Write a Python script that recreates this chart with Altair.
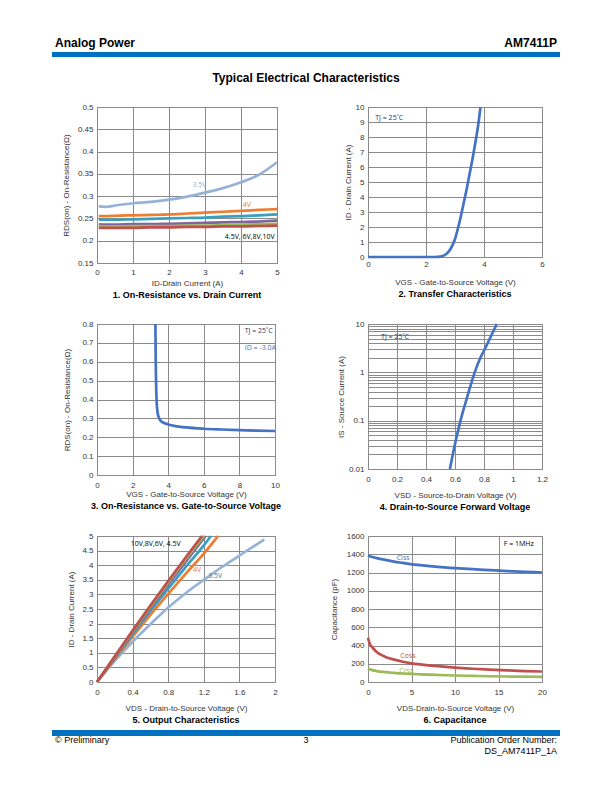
import altair as alt
import pandas as pd

FONT = "Liberation Sans"
GRID = "#8a8a8a"
LAB = "#333333"
BLUE = "#4472C4"

# ---------------- data ----------------
# 1. On-resistance vs drain current
c1_id = [0.05, 0.25, 0.5, 1, 1.5, 2, 2.5, 3, 3.5, 4, 4.5, 5]
c1_rds = {
    "3.5V": [0.277, 0.276, 0.279, 0.284, 0.287, 0.292, 0.299, 0.308, 0.318, 0.331, 0.348, 0.376],
    "4V":   [0.255, 0.255, 0.256, 0.257, 0.258, 0.259, 0.261, 0.263, 0.265, 0.267, 0.269, 0.271],
    "4.5V": [0.247, 0.247, 0.247, 0.248, 0.249, 0.250, 0.251, 0.252, 0.254, 0.255, 0.257, 0.259],
    "6V":   [0.237, 0.236, 0.236, 0.237, 0.237, 0.238, 0.239, 0.240, 0.241, 0.242, 0.243, 0.245],
    "8V":   [0.233, 0.232, 0.232, 0.233, 0.233, 0.233, 0.234, 0.234, 0.235, 0.236, 0.237, 0.238],
    "10V":  [0.229, 0.229, 0.229, 0.229, 0.230, 0.230, 0.231, 0.231, 0.232, 0.232, 0.233, 0.234],
}
series_names = ["3.5V", "4V", "4.5V", "6V", "8V", "10V"]
series_colors = ["#95B3D7", "#ED7D31", "#3A9FBF", "#8064A2", "#9BBB59", "#C0504D"]

# 2. Transfer characteristics
c2_vgs = [0, 2.3, 2.5, 2.7, 2.85, 3.0, 3.1, 3.2, 3.3, 3.4, 3.5, 3.6, 3.7, 3.8, 3.88]
c2_id = [0, 0, 0.03, 0.2, 0.55, 1.2, 1.9, 2.7, 3.6, 4.5, 5.5, 6.5, 7.6, 8.8, 10]

# 3. On-resistance vs gate-source voltage
c3_vgs = [3.28, 3.3, 3.33, 3.37, 3.45, 3.6, 4.0, 4.5, 5, 6, 7, 8, 9, 10]
c3_rds = [0.8, 0.6, 0.45, 0.36, 0.31, 0.285, 0.268, 0.258, 0.252, 0.245, 0.241, 0.238, 0.235, 0.233]

# 4. Drain-to-source forward voltage
c4_vsd = [0.565, 0.597, 0.62, 0.638, 0.683, 0.736, 0.775, 0.805, 0.84, 0.888]
c4_is = [0.01, 0.03, 0.06, 0.1, 0.3, 1, 2, 3, 5, 10]

# 5. Output characteristics
c5 = {
    "3.5V": ([0, 0.2, 0.4, 0.6, 0.8, 1.0, 1.2, 1.4, 1.6, 1.8, 1.88],
             [0, 0.72, 1.38, 1.98, 2.55, 3.05, 3.5, 3.93, 4.33, 4.72, 4.88]),
    "4V":   ([0, 0.2, 0.4, 0.6, 0.8, 1.0, 1.2, 1.36],
             [0, 0.78, 1.55, 2.3, 3.02, 3.72, 4.4, 5.0]),
    "4.5V": ([0, 0.2, 0.4, 0.6, 0.8, 1.0, 1.2, 1.28],
             [0, 0.82, 1.63, 2.43, 3.2, 3.95, 4.68, 5.0]),
    "6V":   ([0, 0.2, 0.4, 0.6, 0.8, 1.0, 1.22],
             [0, 0.85, 1.7, 2.53, 3.34, 4.13, 5.0]),
    "8V":   ([0, 0.2, 0.4, 0.6, 0.8, 1.0, 1.2],
             [0, 0.87, 1.73, 2.58, 3.41, 4.22, 5.0]),
    "10V":  ([0, 0.2, 0.4, 0.6, 0.8, 1.0, 1.18],
             [0, 0.88, 1.76, 2.62, 3.46, 4.28, 5.0]),
}

# 6. Capacitance
c6_vds = [0, 0.2, 0.5, 1, 2, 3, 4, 5, 6, 8, 10, 12, 14, 16, 18, 20]
c6_ciss = [1385, 1378, 1370, 1358, 1338, 1320, 1305, 1290, 1280, 1262, 1248, 1236, 1226, 1216, 1208, 1200]
c6_coss = [485, 420, 380, 330, 275, 245, 222, 205, 193, 173, 157, 145, 135, 127, 120, 115]
c6_crss = [148, 140, 130, 120, 108, 100, 93, 88, 84, 77, 71, 67, 63, 60, 58, 56]
cap_names = ["Ciss", "Coss", "Crss"]
cap_colors = ["#4472C4", "#C0504D", "#9BBB59"]

# tick lists
c1_xticks = [i * 0.25 for i in range(21)]
c1_yticks = [0.15, 0.2, 0.25, 0.3, 0.35, 0.4, 0.45, 0.5]
c2_xticks = [0, 2, 4, 6]
c2_yticks = list(range(0, 11))
c3_xticks = [0, 2, 4, 6, 8, 10]
c3_yticks = [0, 0.1, 0.2, 0.3, 0.4, 0.5, 0.6, 0.7, 0.8]
c4_xticks = [0, 0.2, 0.4, 0.6, 0.8, 1, 1.2]
c4_yticks = [round(m * 10 ** e, 6) for e in (-2, -1, 0) for m in range(1, 10)] + [10]
c5_xticks = [0, 0.4, 0.8, 1.2, 1.6, 2]
c5_yticks = [0, 0.5, 1, 1.5, 2, 2.5, 3, 3.5, 4, 4.5, 5]
c6_xticks = [0, 5, 10, 15, 20]
c6_yticks = [0, 200, 400, 600, 800, 1000, 1200, 1400, 1600]


def axis(values, title, fmt, label_padding=4, title_padding=4, label_expr=None):
    kw = dict(values=values, title=title, grid=True, ticks=False, domain=False,
              labelOverlap=False, labelFlush=False, labelPadding=label_padding,
              titlePadding=title_padding, format=fmt)
    if label_expr:
        kw["labelExpr"] = label_expr
    return alt.Axis(**kw)


def panel(df, xenc, yenc, notes_list, title, width, height, color=None, stroke=None):
    enc = dict(x=xenc, y=yenc, order=alt.Order("x:Q"))
    if color is not None:
        enc["color"] = color
        enc["detail"] = "s:N"
    mk = alt.Chart(df).mark_line(strokeWidth=2.7, interpolate="monotone",
                                 **({"color": stroke} if stroke else {}))
    layers = [mk.encode(**enc)]
    for ndf, ncol in notes_list:
        layers.append(alt.Chart(ndf).mark_text(font="Open Sans", fontSize=7, color=ncol,
                                               align="left").encode(x=xenc, y=yenc, text="t:N"))
    return alt.layer(*layers).properties(
        width=width, height=height,
        title=alt.TitleParams(title, orient="bottom", anchor="middle", offset=4))


# ---------------- chart 1 ----------------
rows = []
for s in series_names:
    for x, y in zip(c1_id, c1_rds[s]):
        rows.append({"s": s, "x": x, "y": y})
df1 = pd.DataFrame(rows)
x1 = alt.X("x:Q", scale=alt.Scale(domain=[0, 5], nice=False, zero=False),
           axis=axis(c1_xticks, "ID-Drain Current (A)", "d", label_padding=5, title_padding=3,
                     label_expr="datum.value % 1 === 0 ? datum.label : ''"))
y1 = alt.Y("y:Q", scale=alt.Scale(domain=[0.15, 0.5], nice=False, zero=False),
           axis=axis(c1_yticks, "RDS(on) - On-Resistance(Ω)", ".2~f", title_padding=7))
col1 = alt.Color("s:N", scale=alt.Scale(domain=series_names, range=series_colors), legend=None)
chart1 = panel(df1, x1, y1, [
    (pd.DataFrame({"x": [2.65], "y": [0.325], "t": ["3.5V"]}), "#95B3D7"),
    (pd.DataFrame({"x": [4.05], "y": [0.28], "t": ["4V"]}), "#ED7D31"),
    (pd.DataFrame({"x": [3.55], "y": [0.208], "t": ["4.5V, 6V,8V,10V"]}), "#000000"),
], "1. On-Resistance vs. Drain Current", 180, 156, color=col1)

# ---------------- chart 2 ----------------
df2 = pd.DataFrame({"x": c2_vgs, "y": c2_id})
x2 = alt.X("x:Q", scale=alt.Scale(domain=[0, 6], nice=False),
           axis=axis(c2_xticks, "VGS - Gate-to-Source Voltage (V)", "d", label_padding=3, title_padding=10))
y2 = alt.Y("y:Q", scale=alt.Scale(domain=[0, 10], nice=False),
           axis=axis(c2_yticks, "ID - Drain Current (A)", "d", title_padding=3))
chart2 = panel(df2, x2, y2, [
    (pd.DataFrame({"x": [0.25], "y": [9.3], "t": ["TJ = 25˚C"]}), "#1F3864"),
], "2. Transfer Characteristics", 174, 150, stroke=BLUE)

# ---------------- chart 3 ----------------
df3 = pd.DataFrame({"x": c3_vgs, "y": c3_rds})
x3 = alt.X("x:Q", scale=alt.Scale(domain=[0, 10], nice=False),
           axis=axis(c3_xticks, "VGS - Gate-to-Source Voltage (V)", "d", label_padding=6, title_padding=1))
y3 = alt.Y("y:Q", scale=alt.Scale(domain=[0, 0.8], nice=False),
           axis=axis(c3_yticks, "RDS(on) - On-Resistance(Ω)", ".1~f", title_padding=10))
chart3 = panel(df3, x3, y3, [
    (pd.DataFrame({"x": [8.3], "y": [0.765], "t": ["TJ = 25˚C"]}), "#1F3864"),
    (pd.DataFrame({"x": [8.3], "y": [0.675], "t": ["ID = -3.0A"]}), "#4472C4"),
], "3. On-Resistance vs. Gate-to-Source Voltage", 178, 151, stroke=BLUE)

# ---------------- chart 4 ----------------
df4 = pd.DataFrame({"x": c4_vsd, "y": c4_is})
x4 = alt.X("x:Q", scale=alt.Scale(domain=[0, 1.2], nice=False),
           axis=axis(c4_xticks, "VSD - Source-to-Drain Voltage (V)", ".1~f", label_padding=6, title_padding=8))
y4 = alt.Y("y:Q", scale=alt.Scale(type="log", domain=[0.01, 10], nice=False),
           axis=axis(c4_yticks, "IS - Source Current (A)", ".2~f", title_padding=3,
                     label_expr="indexof([0.01, 0.1, 1, 10], datum.value) >= 0 ? datum.label : ''"))
chart4 = panel(df4, x4, y4, [
    (pd.DataFrame({"x": [0.09], "y": [5.5], "t": ["TJ = 25˚C"]}), "#1F3864"),
], "4. Drain-to-Source Forward Voltage", 174, 145, stroke=BLUE)

# ---------------- chart 5 ----------------
rows = []
for s in series_names:
    xs, ys = c5[s]
    for x, y in zip(xs, ys):
        rows.append({"s": s, "x": x, "y": y})
df5 = pd.DataFrame(rows)
x5 = alt.X("x:Q", scale=alt.Scale(domain=[0, 2], nice=False),
           axis=axis(c5_xticks, "VDS - Drain-to-Source Voltage (V)", ".1~f", label_padding=6, title_padding=8))
y5 = alt.Y("y:Q", scale=alt.Scale(domain=[0, 5], nice=False),
           axis=axis(c5_yticks, "ID - Drain Current (A)", ".1~f", title_padding=6))
chart5 = panel(df5, x5, y5, [
    (pd.DataFrame({"x": [0.38], "y": [4.72], "t": ["10V,8V,6V, 4.5V"]}), "#000000"),
    (pd.DataFrame({"x": [1.08], "y": [3.85], "t": ["4V"]}), "#ED7D31"),
    (pd.DataFrame({"x": [1.25], "y": [3.62], "t": ["3.5V"]}), "#31859C"),
], "5. Output Characteristics", 178, 146, color=col1)

# ---------------- chart 6 ----------------
df6 = pd.DataFrame({
    "x": c6_vds * 3,
    "y": c6_ciss + c6_coss + c6_crss,
    "s": ["Ciss"] * len(c6_vds) + ["Coss"] * len(c6_vds) + ["Crss"] * len(c6_vds),
})
x6 = alt.X("x:Q", scale=alt.Scale(domain=[0, 20], nice=False),
           axis=axis(c6_xticks, "VDS-Drain-to-Source Voltage (V)", "d", label_padding=6, title_padding=8))
y6 = alt.Y("y:Q", scale=alt.Scale(domain=[0, 1600], nice=False),
           axis=axis(c6_yticks, "Capacitance (pF)", "d", title_padding=8))
col6 = alt.Color("s:N", scale=alt.Scale(domain=cap_names, range=cap_colors), legend=None)
chart6 = panel(df6, x6, y6, [
    (pd.DataFrame({"x": [3.3], "y": [1362], "t": ["Ciss"]}), cap_colors[0]),
    (pd.DataFrame({"x": [3.7], "y": [285], "t": ["Coss"]}), cap_colors[1]),
    (pd.DataFrame({"x": [3.6], "y": [118], "t": ["Crss"]}), cap_colors[2]),
    (pd.DataFrame({"x": [15.6], "y": [1515], "t": ["F = 1MHz"]}), "#000000"),
], "6. Capacitance", 174, 146, color=col6)

# ---------------- header / footer ----------------
one = pd.DataFrame({"a": [0]})
NOVIEW = alt.ViewBackground(strokeOpacity=0)


def ptext(text, x, y, size, align="left", weight="normal"):
    return alt.Chart(one).mark_text(text=text, font=FONT, fontSize=size, fontWeight=weight,
                                    align=align, baseline="middle", color="#000000").encode(
        x=alt.value(x), y=alt.value(y))


def pbar(x, x2, y, y2, color, opacity=1):
    return alt.Chart(one).mark_rect(color=color, opacity=opacity).encode(
        x=alt.value(x), x2=alt.value(x2), y=alt.value(y), y2=alt.value(y2))


def blank():
    return alt.Chart(one).mark_point(opacity=0).encode(
        x=alt.value(0), y=alt.value(0)).properties(width=1, height=1, view=NOVIEW)


header = alt.layer(
    pbar(-45, 463, 0, 1, "#ffffff", 0),
    ptext("Analog Power", -42, 13, 12, weight="bold"),
    ptext("AM7411P", 460, 13, 12, align="right", weight="bold"),
    pbar(-45, 463, 22, 27, "#0070C0"),
    ptext("Typical Electrical Characteristics", 209, 48, 12, align="center", weight="bold"),
).properties(width=1, height=16, view=NOVIEW)

footer = alt.layer(
    pbar(-45, 463, -13, -7, "#0070C0"),
    ptext("© Preliminary", -42, -3, 9),
    ptext("3", 209, -3, 9, align="center"),
    ptext("Publication Order Number:", 460, -3, 9, align="right"),
    ptext("DS_AM7411P_1A", 460, 8, 9, align="right"),
).properties(width=1, height=10, view=NOVIEW)

chart = alt.concat(
    header, blank(), chart1, chart2, chart3, chart4, chart5, chart6, footer, blank(),
    columns=2, spacing={"row": 61, "column": 91}, bounds="flush", align="each"
).resolve_scale(
    color="independent"
).properties(
    padding={"left": 44, "top": 19, "right": 5, "bottom": 5}
).configure_view(
    stroke=GRID, strokeWidth=1
).configure_axis(
    labelFont=FONT, labelFontSize=8, labelColor=LAB,
    titleFont=FONT, titleFontSize=8, titleFontWeight="normal", titleColor=LAB,
    gridColor=GRID, gridWidth=1, gridOpacity=1
).configure_title(
    font=FONT, fontSize=9, fontWeight="bold", color="#000000"
)

chart.save("out.html", embed_options={"renderer": "svg", "actions": False})
